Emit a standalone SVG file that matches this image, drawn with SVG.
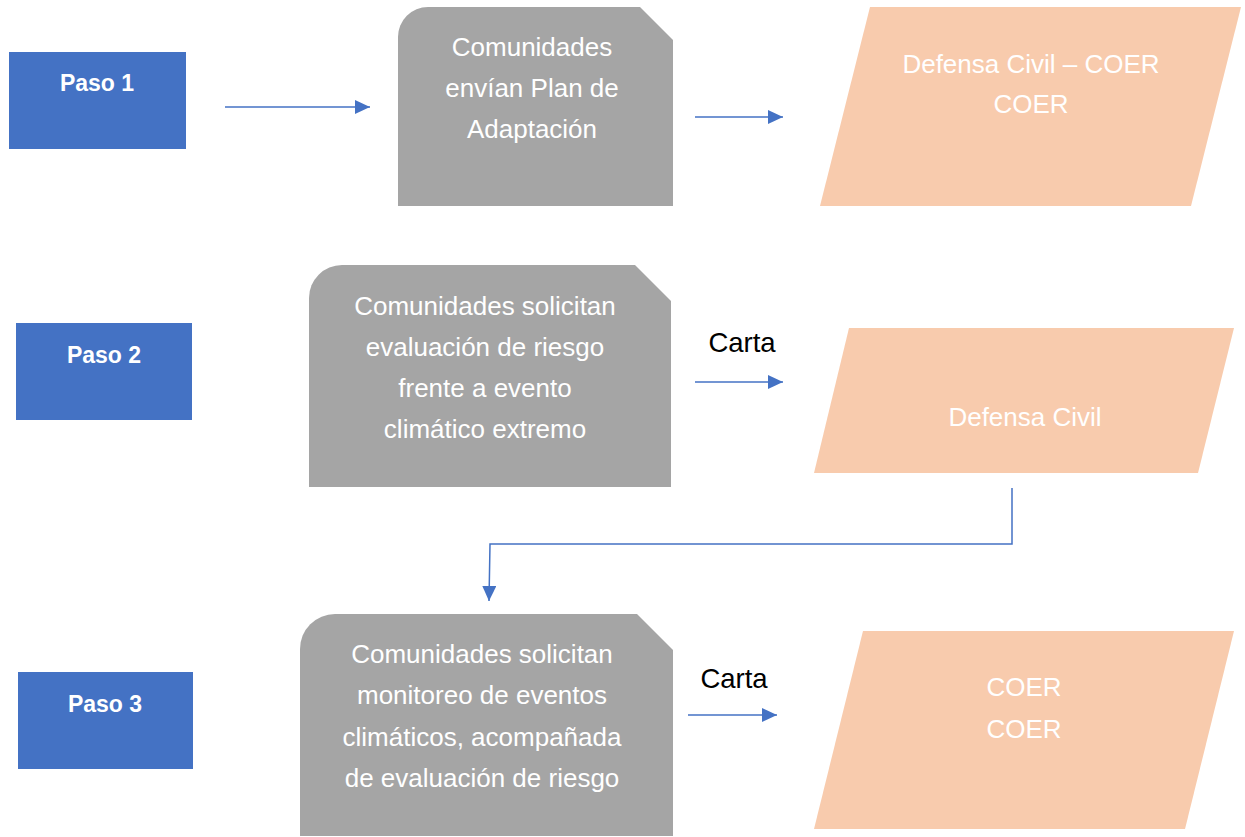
<svg xmlns="http://www.w3.org/2000/svg" width="1245" height="837" viewBox="0 0 1245 837">
<style>
.paso{fill:#4472C4}
.gray{fill:#A5A5A5}
.peach{fill:#F8CBAD}
.t{font-family:"Liberation Sans",Arial,sans-serif;font-size:26px;fill:#FFFFFF;text-anchor:middle}
.pt{font-family:"Liberation Sans",Arial,sans-serif;font-size:23px;font-weight:bold;fill:#FFFFFF;text-anchor:middle}
.lbl{font-family:"Liberation Sans",Arial,sans-serif;font-size:27.5px;fill:#000000;text-anchor:middle}
.conn{fill:none;stroke:#4472C4;stroke-width:1.5}
</style>
<defs>
<marker id="ah" markerUnits="userSpaceOnUse" markerWidth="16" markerHeight="14" refX="15" refY="7" orient="auto">
<path d="M0,0 L15,7 L0,14 Z" fill="#4472C4"/>
</marker>
</defs>
<rect width="1245" height="837" fill="#FFFFFF"/>
<g id="paso1"><rect class="paso" x="9" y="52" width="177" height="97"/><text class="pt" x="97" y="91">Paso 1</text></g>
<g id="paso2"><rect class="paso" x="16" y="323" width="176" height="97"/><text class="pt" x="104" y="363">Paso 2</text></g>
<g id="paso3"><rect class="paso" x="18" y="672" width="175" height="97"/><text class="pt" x="105" y="712">Paso 3</text></g>
<g id="comunidades1">
<path class="gray" d="M398,37 A30,30 0 0 1 428,7 L640,7 L673,40 L673,206 L398,206 Z"/>
<text class="t" x="532" y="56">Comunidades</text>
<text class="t" x="532" y="97">envían Plan de</text>
<text class="t" x="532" y="138">Adaptación</text>
</g>
<g id="comunidades2">
<path class="gray" d="M309,298 A33,33 0 0 1 342,265 L635,265 L671,301 L671,487 L309,487 Z"/>
<text class="t" x="485" y="315">Comunidades solicitan</text>
<text class="t" x="485" y="356">evaluación de riesgo</text>
<text class="t" x="485" y="397">frente a evento</text>
<text class="t" x="485" y="438">climático extremo</text>
</g>
<g id="comunidades3">
<path class="gray" d="M300,649 A35,35 0 0 1 335,614 L637,614 L673,650 L673,836 L300,836 Z"/>
<text class="t" x="482" y="663">Comunidades solicitan</text>
<text class="t" x="482" y="704">monitoreo de eventos</text>
<text class="t" x="482" y="746">climáticos, acompañada</text>
<text class="t" x="482" y="787">de evaluación de riesgo</text>
</g>
<g id="defensa-coer">
<polygon class="peach" points="870,7 1241,7 1191,206 820,206"/>
<text class="t" x="1031" y="73">Defensa Civil – COER</text>
<text class="t" x="1031" y="113">COER</text>
</g>
<g id="defensa-civil">
<polygon class="peach" points="849,328 1234,328 1198,473 814,473"/>
<text class="t" x="1025" y="426">Defensa Civil</text>
</g>
<g id="coer">
<polygon class="peach" points="863,631 1234,631 1185,829 814,829"/>
<text class="t" x="1024" y="696">COER</text>
<text class="t" x="1024" y="738">COER</text>
</g>
<g id="connectors">
<line class="conn" x1="225" y1="107" x2="370" y2="107" marker-end="url(#ah)"/>
<line class="conn" x1="695" y1="117" x2="783" y2="117" marker-end="url(#ah)"/>
<line class="conn" x1="695" y1="382" x2="783" y2="382" marker-end="url(#ah)"/>
<line class="conn" x1="688" y1="715" x2="777" y2="715" marker-end="url(#ah)"/>
<polyline class="conn" points="1012,488 1012,544 490,544 489,601" marker-end="url(#ah)"/>
<text class="lbl" x="742" y="352">Carta</text>
<text class="lbl" x="734" y="688">Carta</text>
</g>
</svg>
